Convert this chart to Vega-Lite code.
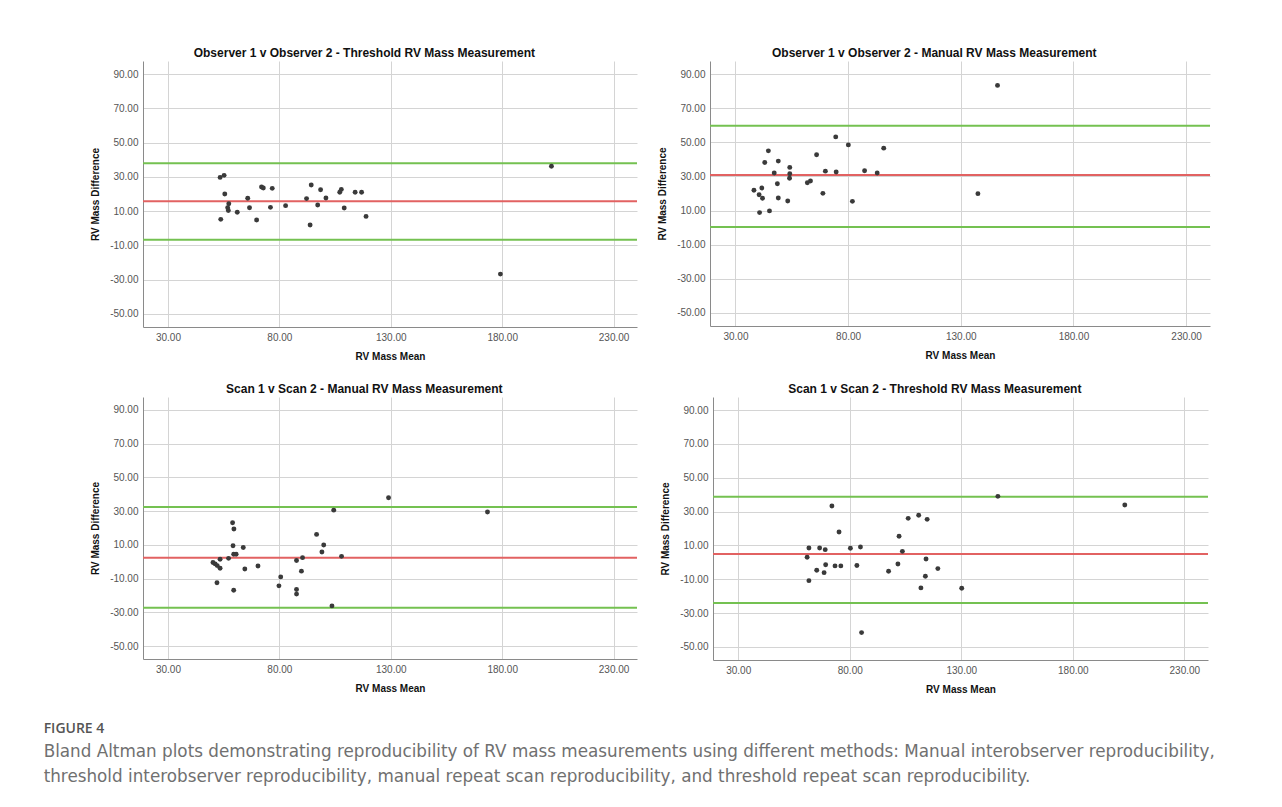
{
  "$schema": "https://vega.github.io/schema/vega-lite/v6.json",
  "background": "white",
  "padding": {"left": 43, "top": 47, "right": 0, "bottom": 0},
  "config": {
    "font": "Liberation Sans",
    "view": {"stroke": null},
    "axis": {
      "domainColor": "#8a8a8a",
      "domainWidth": 1,
      "ticks": false,
      "grid": true,
      "gridColor": "#d4d4d4",
      "gridWidth": 1,
      "labelFont": "Liberation Sans",
      "labelFontSize": 10,
      "labelColor": "#555555",
      "labelPadding": 5,
      "labelOverlap": false,
      "labelFlush": false,
      "titleFont": "Liberation Sans",
      "titleFontSize": 10,
      "titleFontWeight": "bold",
      "titleColor": "#111111"
    },
    "title": {"font": "Liberation Sans", "fontSize": 12, "fontWeight": "bold", "color": "#111111", "frame": "bounds", "anchor": "middle", "offset": 1}
  },
  "datasets": {
    "p1": [
      {"m": 53.4, "d": 29.7}, {"m": 55.2, "d": 30.9}, {"m": 55.5, "d": 20.0}, {"m": 57.3, "d": 14.3}, {"m": 56.8, "d": 12.0},
      {"m": 57.1, "d": 10.4}, {"m": 53.7, "d": 5.2}, {"m": 61.1, "d": 9.3}, {"m": 65.8, "d": 17.5}, {"m": 66.6, "d": 12.0},
      {"m": 69.8, "d": 4.8}, {"m": 72.0, "d": 24.1}, {"m": 72.8, "d": 23.5}, {"m": 76.0, "d": 12.2}, {"m": 76.8, "d": 23.3},
      {"m": 82.8, "d": 13.2}, {"m": 92.2, "d": 17.3}, {"m": 94.3, "d": 25.3}, {"m": 93.8, "d": 1.9}, {"m": 97.2, "d": 13.6},
      {"m": 98.5, "d": 22.5}, {"m": 100.9, "d": 17.7}, {"m": 107.1, "d": 21.0}, {"m": 107.8, "d": 22.7}, {"m": 109.1, "d": 11.8},
      {"m": 114.0, "d": 21.0}, {"m": 116.9, "d": 21.0}, {"m": 118.9, "d": 6.9}, {"m": 179.2, "d": -26.8}, {"m": 202.1, "d": 36.2}
    ],
    "l1": [{"v": 37.9, "k": "limit"}, {"v": 15.7, "k": "mean"}, {"v": -6.7, "k": "limit"}],
    "p2": [
      {"m": 38.2, "d": 21.9}, {"m": 40.5, "d": 19.3}, {"m": 41.7, "d": 23.2}, {"m": 42.0, "d": 17.2}, {"m": 40.7, "d": 8.8},
      {"m": 43.0, "d": 38.2}, {"m": 44.6, "d": 45.0}, {"m": 45.1, "d": 9.8}, {"m": 47.2, "d": 32.0}, {"m": 48.6, "d": 25.7},
      {"m": 49.0, "d": 39.0}, {"m": 49.0, "d": 17.4}, {"m": 53.2, "d": 15.6}, {"m": 54.1, "d": 35.3}, {"m": 54.1, "d": 31.6},
      {"m": 54.0, "d": 28.9}, {"m": 61.9, "d": 26.3}, {"m": 63.3, "d": 27.3}, {"m": 66.0, "d": 42.7}, {"m": 68.8, "d": 20.1},
      {"m": 69.9, "d": 33.1}, {"m": 74.5, "d": 53.2}, {"m": 74.7, "d": 32.6}, {"m": 80.1, "d": 48.5}, {"m": 81.9, "d": 15.4},
      {"m": 87.3, "d": 33.3}, {"m": 92.9, "d": 32.0}, {"m": 95.8, "d": 46.6}, {"m": 137.6, "d": 19.9}, {"m": 146.3, "d": 83.4}
    ],
    "l2": [{"v": 59.8, "k": "limit"}, {"v": 30.8, "k": "mean"}, {"v": 0.4, "k": "limit"}],
    "p3": [
      {"m": 50.2, "d": -0.5}, {"m": 51.2, "d": -1.3}, {"m": 52.1, "d": -2.3}, {"m": 53.4, "d": -3.9}, {"m": 53.4, "d": 1.5},
      {"m": 52.0, "d": -12.5}, {"m": 57.2, "d": 2.0}, {"m": 59.0, "d": 23.1}, {"m": 59.6, "d": 19.4}, {"m": 59.2, "d": 9.5},
      {"m": 59.5, "d": 4.4}, {"m": 60.6, "d": 4.4}, {"m": 59.5, "d": -16.9}, {"m": 63.8, "d": 8.4}, {"m": 64.5, "d": -4.3},
      {"m": 70.4, "d": -2.5}, {"m": 79.8, "d": -14.3}, {"m": 80.6, "d": -9.0}, {"m": 87.7, "d": 0.7}, {"m": 90.4, "d": 2.4},
      {"m": 89.9, "d": -5.6}, {"m": 87.7, "d": -16.5}, {"m": 87.7, "d": -19.2}, {"m": 96.7, "d": 16.2}, {"m": 99.1, "d": 5.8},
      {"m": 99.9, "d": 9.9}, {"m": 104.4, "d": 30.6}, {"m": 103.6, "d": -26.2}, {"m": 107.9, "d": 3.2}, {"m": 129.0, "d": 37.9},
      {"m": 173.4, "d": 29.5}
    ],
    "l3": [{"v": 32.4, "k": "limit"}, {"v": 2.4, "k": "mean"}, {"v": -27.3, "k": "limit"}],
    "p4": [
      {"m": 60.9, "d": 3.0}, {"m": 61.7, "d": 8.5}, {"m": 61.7, "d": -10.8}, {"m": 65.2, "d": -4.7}, {"m": 66.5, "d": 8.5},
      {"m": 68.5, "d": -6.1}, {"m": 69.0, "d": 7.5}, {"m": 69.2, "d": -1.4}, {"m": 72.0, "d": 33.3}, {"m": 73.4, "d": -2.1},
      {"m": 75.2, "d": 17.9}, {"m": 76.0, "d": -2.1}, {"m": 80.3, "d": 8.3}, {"m": 83.2, "d": -1.9}, {"m": 84.8, "d": 9.1},
      {"m": 85.3, "d": -41.5}, {"m": 97.4, "d": -5.3}, {"m": 101.6, "d": -1.0}, {"m": 102.1, "d": 15.4}, {"m": 103.6, "d": 6.5},
      {"m": 106.2, "d": 26.0}, {"m": 110.9, "d": 27.8}, {"m": 111.9, "d": -15.1}, {"m": 113.9, "d": -8.2}, {"m": 114.2, "d": 2.0},
      {"m": 114.7, "d": 25.4}, {"m": 119.5, "d": -3.7}, {"m": 130.2, "d": -15.3}, {"m": 146.4, "d": 39.0}, {"m": 203.3, "d": 33.9}
    ],
    "l4": [{"v": 38.8, "k": "limit"}, {"v": 4.9, "k": "mean"}, {"v": -24.0, "k": "limit"}]
  },
  "title": {
    "text": "FIGURE 4",
    "subtitle": [
      "Bland Altman plots demonstrating reproducibility of RV mass measurements using different methods: Manual interobserver reproducibility,",
      "threshold interobserver reproducibility, manual repeat scan reproducibility, and threshold repeat scan reproducibility."
    ],
    "orient": "bottom",
    "anchor": "start",
    "frame": "bounds",
    "dx": -47,
    "offset": 28,
    "font": "Open Sans",
    "fontSize": 14,
    "fontWeight": 600,
    "color": "#555555",
    "subtitleFont": "DejaVu Sans",
    "subtitleFontSize": 16.8,
    "subtitleColor": "#707070",
    "subtitleLineHeight": 25,
    "subtitlePadding": 8
  },
  "spacing": 22,
  "vconcat": [
    {
      "spacing": 19,
      "hconcat": [
        {
          "width": 494, "height": 266,
          "title": "Observer 1 v Observer 2 - Threshold RV Mass Measurement",
          "layer": [
            {
              "data": {"name": "l1"},
              "mark": {"type": "rule", "strokeWidth": 2},
              "encoding": {
                "y": {"field": "v", "type": "quantitative", "scale": {"domain": [-57.7, 97.7], "nice": false, "zero": false}},
                "color": {"field": "k", "type": "nominal", "scale": {"domain": ["limit", "mean"], "range": ["#74c151", "#e26262"]}, "legend": null}
              }
            },
            {
              "data": {"name": "p1"},
              "mark": {"type": "circle", "size": 24, "color": "#3a3a3a", "opacity": 1},
              "encoding": {
                "x": {"field": "m", "type": "quantitative", "scale": {"domain": [18.8, 240.5], "nice": false, "zero": false},
                      "axis": {"values": [30, 80, 130, 180, 230], "tickCount": 10, "format": ".2f", "title": "RV Mass Mean", "titlePadding": 9}},
                "y": {"field": "d", "type": "quantitative",
                      "axis": {"values": [-50, -30, -10, 10, 30, 50, 70, 90], "tickCount": 10, "format": ".2f", "labelExpr": "replace(datum.label, '\u2212', '-')", "title": "RV Mass Difference", "titlePadding": 9}}
              }
            }
          ]
        },
        {
          "width": 500, "height": 265,
          "title": "Observer 1 v Observer 2 - Manual RV Mass Measurement",
          "layer": [
            {
              "data": {"name": "l2"},
              "mark": {"type": "rule", "strokeWidth": 2},
              "encoding": {
                "y": {"field": "v", "type": "quantitative", "scale": {"domain": [-57.7, 97.7], "nice": false, "zero": false}},
                "color": {"field": "k", "type": "nominal", "scale": {"domain": ["limit", "mean"], "range": ["#74c151", "#e26262"]}, "legend": null}
              }
            },
            {
              "data": {"name": "p2"},
              "mark": {"type": "circle", "size": 24, "color": "#3a3a3a", "opacity": 1},
              "encoding": {
                "x": {"field": "m", "type": "quantitative", "scale": {"domain": [18.7, 240.6], "nice": false, "zero": false},
                      "axis": {"values": [30, 80, 130, 180, 230], "tickCount": 10, "format": ".2f", "title": "RV Mass Mean", "titlePadding": 9}},
                "y": {"field": "d", "type": "quantitative",
                      "axis": {"values": [-50, -30, -10, 10, 30, 50, 70, 90], "tickCount": 10, "format": ".2f", "labelExpr": "replace(datum.label, '\u2212', '-')", "title": "RV Mass Difference", "titlePadding": 9}}
              }
            }
          ]
        }
      ]
    },
    {
      "spacing": 22,
      "hconcat": [
        {
          "width": 494, "height": 262,
          "title": "Scan 1 v Scan 2 - Manual RV Mass Measurement",
          "layer": [
            {
              "data": {"name": "l3"},
              "mark": {"type": "rule", "strokeWidth": 2},
              "encoding": {
                "y": {"field": "v", "type": "quantitative", "scale": {"domain": [-57.7, 97.7], "nice": false, "zero": false}},
                "color": {"field": "k", "type": "nominal", "scale": {"domain": ["limit", "mean"], "range": ["#74c151", "#e26262"]}, "legend": null}
              }
            },
            {
              "data": {"name": "p3"},
              "mark": {"type": "circle", "size": 24, "color": "#3a3a3a", "opacity": 1},
              "encoding": {
                "x": {"field": "m", "type": "quantitative", "scale": {"domain": [18.8, 240.5], "nice": false, "zero": false},
                      "axis": {"values": [30, 80, 130, 180, 230], "tickCount": 10, "format": ".2f", "title": "RV Mass Mean", "titlePadding": 9}},
                "y": {"field": "d", "type": "quantitative",
                      "axis": {"values": [-50, -30, -10, 10, 30, 50, 70, 90], "tickCount": 10, "format": ".2f", "labelExpr": "replace(datum.label, '\u2212', '-')", "title": "RV Mass Difference", "titlePadding": 9}}
              }
            }
          ]
        },
        {
          "width": 495, "height": 263,
          "title": "Scan 1 v Scan 2 - Threshold RV Mass Measurement",
          "layer": [
            {
              "data": {"name": "l4"},
              "mark": {"type": "rule", "strokeWidth": 2},
              "encoding": {
                "y": {"field": "v", "type": "quantitative", "scale": {"domain": [-57.7, 97.7], "nice": false, "zero": false}},
                "color": {"field": "k", "type": "nominal", "scale": {"domain": ["limit", "mean"], "range": ["#74c151", "#e26262"]}, "legend": null}
              }
            },
            {
              "data": {"name": "p4"},
              "mark": {"type": "circle", "size": 24, "color": "#3a3a3a", "opacity": 1},
              "encoding": {
                "x": {"field": "m", "type": "quantitative", "scale": {"domain": [18.7, 240.6], "nice": false, "zero": false},
                      "axis": {"values": [30, 80, 130, 180, 230], "tickCount": 10, "format": ".2f", "title": "RV Mass Mean", "titlePadding": 9}},
                "y": {"field": "d", "type": "quantitative",
                      "axis": {"values": [-50, -30, -10, 10, 30, 50, 70, 90], "tickCount": 10, "format": ".2f", "labelExpr": "replace(datum.label, '\u2212', '-')", "title": "RV Mass Difference", "titlePadding": 9}}
              }
            }
          ]
        }
      ]
    }
  ]
}
